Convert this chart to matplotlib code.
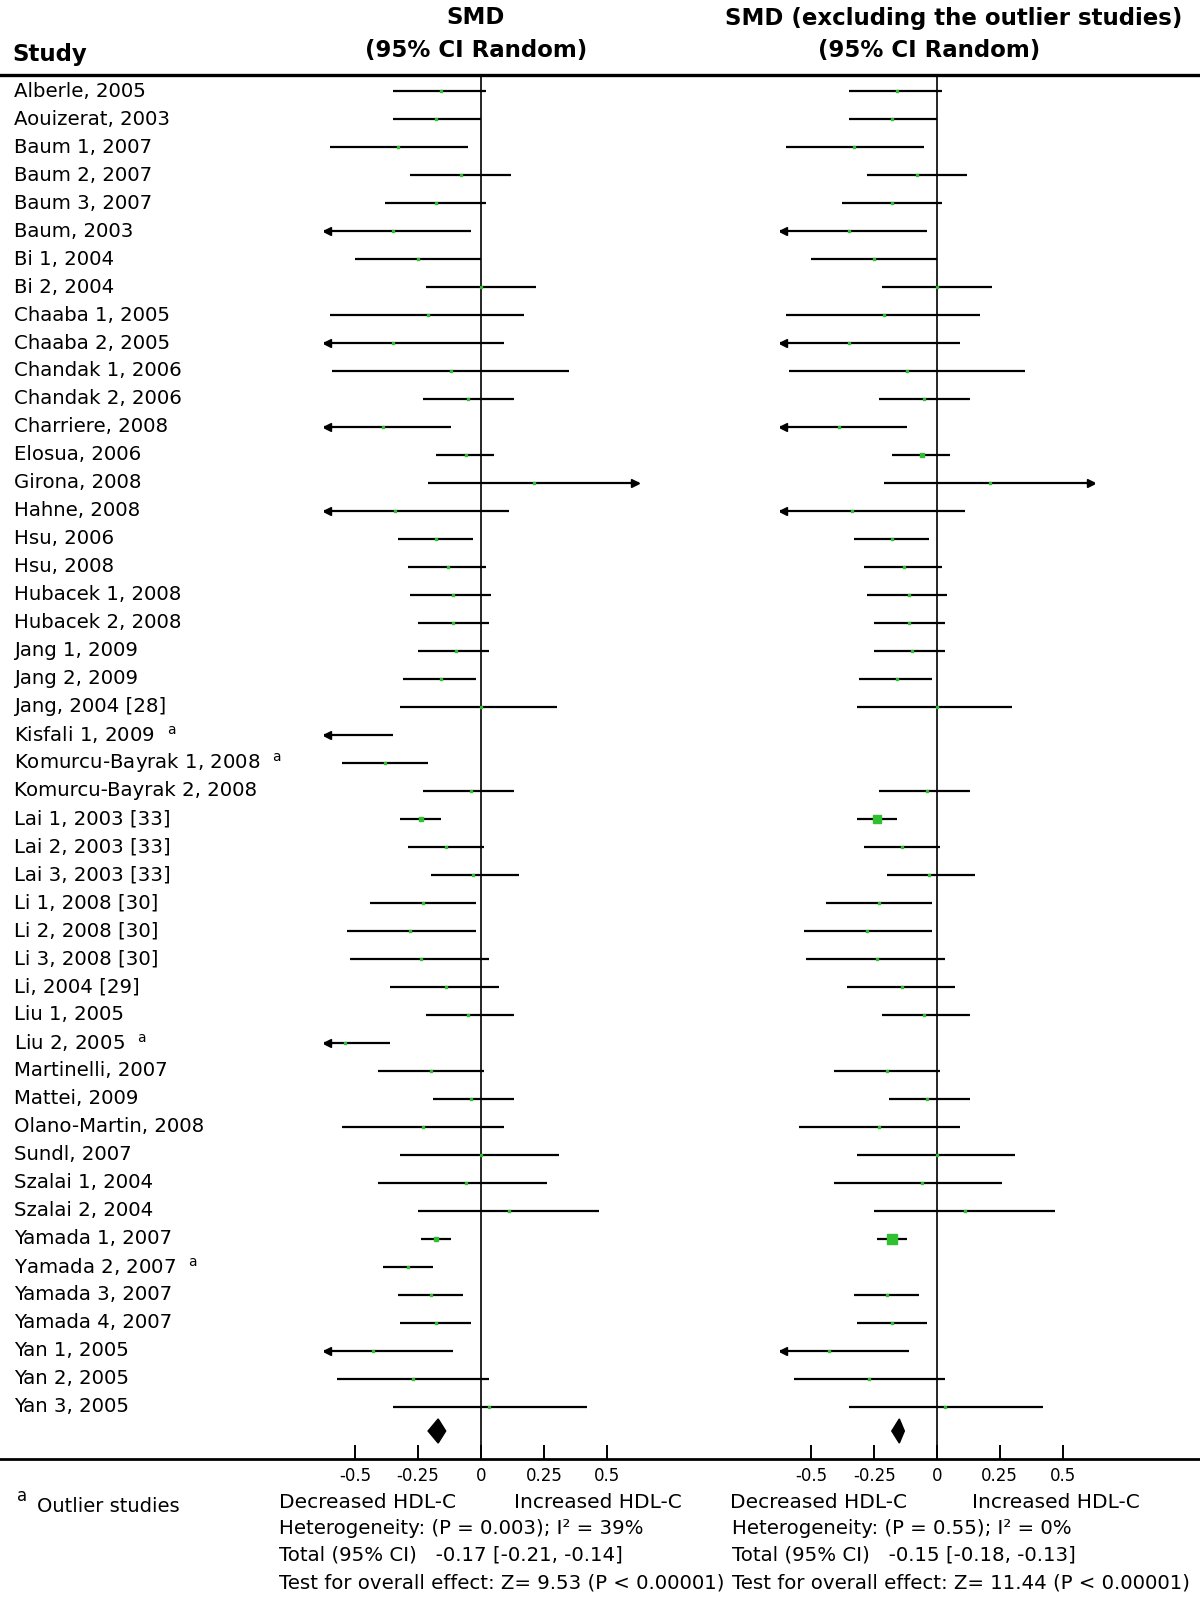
import matplotlib
matplotlib.use('Agg')
import matplotlib.pyplot as plt
from matplotlib.patches import Polygon
from matplotlib.lines import Line2D
import matplotlib.transforms as mtransforms

plt.rcParams['font.family'] = ['DejaVu Sans']

# study data (SMD with 95% CI)
studies = ['Alberle, 2005', 'Aouizerat, 2003', 'Baum 1, 2007', 'Baum 2, 2007', 'Baum 3, 2007',
           'Baum, 2003', 'Bi 1, 2004', 'Bi 2, 2004', 'Chaaba 1, 2005', 'Chaaba 2, 2005',
           'Chandak 1, 2006', 'Chandak 2, 2006', 'Charriere, 2008', 'Elosua, 2006', 'Girona, 2008',
           'Hahne, 2008', 'Hsu, 2006', 'Hsu, 2008', 'Hubacek 1, 2008', 'Hubacek 2, 2008',
           'Jang 1, 2009', 'Jang 2, 2009', 'Jang, 2004 [28]', 'Kisfali 1, 2009',
           'Komurcu-Bayrak 1, 2008', 'Komurcu-Bayrak 2, 2008', 'Lai 1, 2003 [33]', 'Lai 2, 2003 [33]',
           'Lai 3, 2003 [33]', 'Li 1, 2008 [30]', 'Li 2, 2008 [30]', 'Li 3, 2008 [30]', 'Li, 2004 [29]',
           'Liu 1, 2005', 'Liu 2, 2005', 'Martinelli, 2007', 'Mattei, 2009', 'Olano-Martin, 2008',
           'Sundl, 2007', 'Szalai 1, 2004', 'Szalai 2, 2004', 'Yamada 1, 2007', 'Yamada 2, 2007',
           'Yamada 3, 2007', 'Yamada 4, 2007', 'Yan 1, 2005', 'Yan 2, 2005', 'Yan 3, 2005']
est = [-0.16, -0.18, -0.33, -0.08, -0.18, -0.35, -0.25, 0.00, -0.21, -0.35,
       -0.12, -0.05, -0.39, -0.06, 0.21, -0.34, -0.18, -0.13, -0.11, -0.11,
       -0.10, -0.16, 0.00, -0.70, -0.38, -0.04, -0.24, -0.14, -0.03, -0.23,
       -0.28, -0.24, -0.14, -0.05, -0.54, -0.20, -0.04, -0.23, 0.00, -0.06,
       0.11, -0.18, -0.29, -0.20, -0.18, -0.43, -0.27, 0.03]
lo = [-0.35, -0.35, -0.60, -0.28, -0.38, -0.68, -0.50, -0.22, -0.60, -0.70,
      -0.59, -0.23, -0.70, -0.18, -0.21, -0.75, -0.33, -0.29, -0.28, -0.25,
      -0.25, -0.31, -0.32, -1.05, -0.55, -0.23, -0.32, -0.29, -0.20, -0.44,
      -0.53, -0.52, -0.36, -0.22, -0.72, -0.41, -0.19, -0.55, -0.32, -0.41,
      -0.25, -0.24, -0.39, -0.33, -0.32, -0.74, -0.57, -0.35]
hi = [0.02, 0.00, -0.05, 0.12, 0.02, -0.04, 0.00, 0.22, 0.17, 0.09,
      0.35, 0.13, -0.12, 0.05, 0.68, 0.11, -0.03, 0.02, 0.04, 0.03,
      0.03, -0.02, 0.30, -0.35, -0.21, 0.13, -0.16, 0.01, 0.15, -0.02,
      -0.02, 0.03, 0.07, 0.13, -0.36, 0.01, 0.13, 0.09, 0.31, 0.26,
      0.47, -0.12, -0.19, -0.07, -0.04, -0.11, 0.03, 0.42]
outliers = ['Kisfali 1, 2009', 'Komurcu-Bayrak 1, 2008', 'Liu 2, 2005', 'Yamada 2, 2007']

total_all = (-0.17, -0.21, -0.14)
total_excl = (-0.15, -0.18, -0.13)
ticks = [-0.5, -0.25, 0, 0.25, 0.5]
tick_labels = ['-0.5', '-0.25', '0', '0.25', '0.5']

W, H = 1200, 1622
fig = plt.figure(figsize=(W / 100, H / 100), dpi=100)
fig.patch.set_facecolor('white')

XL = 0.625
ybot, ytop = 1 - 1459 / H, 1 - 74.5 / H
ax_l = fig.add_axes([323.5 / W, ybot, 315 / W, ytop - ybot])
ax_r = fig.add_axes([780 / W, ybot, 314 / W, ytop - ybot])

green = '#2fbf2f'


def forest(ax, keep, total, big):
    rows = [i for i in range(len(studies)) if keep(studies[i])]
    for i in rows:
        a, b, m = lo[i], hi[i], est[i]
        ax.plot([max(a, -XL), min(b, XL)], [i, i], color='black', lw=1.6,
                solid_capstyle='butt', zorder=2)
        if a < -XL:
            ax.plot(-XL + 0.012, i, marker='<', color='black', ms=6, zorder=3)
        if b > XL:
            ax.plot(XL - 0.012, i, marker='>', color='black', ms=6, zorder=3)
        w = b - a
        if big:
            ms = min(7.0, max(2.0, 0.13 / w ** 2))
        else:
            ms = min(3.0, max(2.0, 0.4 / w))
        if -XL < m < XL:
            ax.plot(m, i, marker='s', ms=ms, color=green, mec=green, lw=0, zorder=4)
    # pooled diamond
    m, a, b = total
    yd = len(studies) - 0.14
    ax.add_patch(Polygon([(a, yd), (m, yd - 0.43), (b, yd), (m, yd + 0.43)],
                         closed=True, facecolor='black', edgecolor='black', zorder=4))
    ax.axvline(0, color='black', lw=1.2, zorder=1)
    ax.set_xlim(-XL, XL)
    ax.set_ylim(48.86, -0.59)
    for s in ax.spines.values():
        s.set_visible(False)
    ax.set_yticks([])
    ax.set_xticks(ticks)
    ax.set_xticklabels(tick_labels)
    ax.tick_params(axis='x', direction='in', length=10, width=1.4, pad=6,
                   labelsize=12)
    ax.patch.set_alpha(0)


forest(ax_l, lambda s: True, total_all, False)
forest(ax_r, lambda s: s not in outliers, total_excl, True)

# row labels
tr = mtransforms.blended_transform_factory(fig.transFigure, ax_l.transData)
for i, s in enumerate(studies):
    lab = s + '  ${}^{\\mathrm{a}}$' if s in outliers else s
    ax_l.text(14.5 / W, i, lab, transform=tr, ha='left', va='center', fontsize=14.2)

# horizontal rules
fig.add_artist(Line2D([0, 1], [1 - 74.5 / H] * 2, color='black', lw=2.4))
fig.add_artist(Line2D([0, 1], [1 - 1459 / H] * 2, color='black', lw=2.0))


def ftext(x, y, s, **kw):
    fig.text(x / W, 1 - y / H, s, va='center', **kw)


ftext(12, 55, 'Study', fontsize=16.5, fontweight='bold')
ftext(476, 18, 'SMD', fontsize=16.5, fontweight='bold', ha='center')
ftext(476, 50, '(95% CI Random)', fontsize=16.5, fontweight='bold', ha='center')
ftext(954, 18, 'SMD (excluding the outlier studies)', fontsize=16.5, fontweight='bold', ha='center')
ftext(929, 50, '(95% CI Random)', fontsize=16.5, fontweight='bold', ha='center')

ftext(17, 1496, 'a', fontsize=12)
ftext(37, 1507, 'Outlier studies', fontsize=14)

ftext(279, 1502, 'Decreased HDL-C', fontsize=14.5)
ftext(514, 1502, 'Increased HDL-C', fontsize=14.5)
ftext(279, 1528, 'Heterogeneity: (P = 0.003); I² = 39%', fontsize=14.2)
ftext(279, 1555, 'Total (95% CI)   -0.17 [-0.21, -0.14]', fontsize=14.2)
ftext(279, 1583, 'Test for overall effect: Z= 9.53 (P < 0.00001)', fontsize=14.2)

ftext(730, 1502, 'Decreased HDL-C', fontsize=14.5)
ftext(972, 1502, 'Increased HDL-C', fontsize=14.5)
ftext(732, 1528, 'Heterogeneity: (P = 0.55); I² = 0%', fontsize=14.2)
ftext(732, 1555, 'Total (95% CI)   -0.15 [-0.18, -0.13]', fontsize=14.2)
ftext(732, 1583, 'Test for overall effect: Z= 11.44 (P < 0.00001)', fontsize=14.2)

fig.savefig('out.png', dpi=100, facecolor='white')
